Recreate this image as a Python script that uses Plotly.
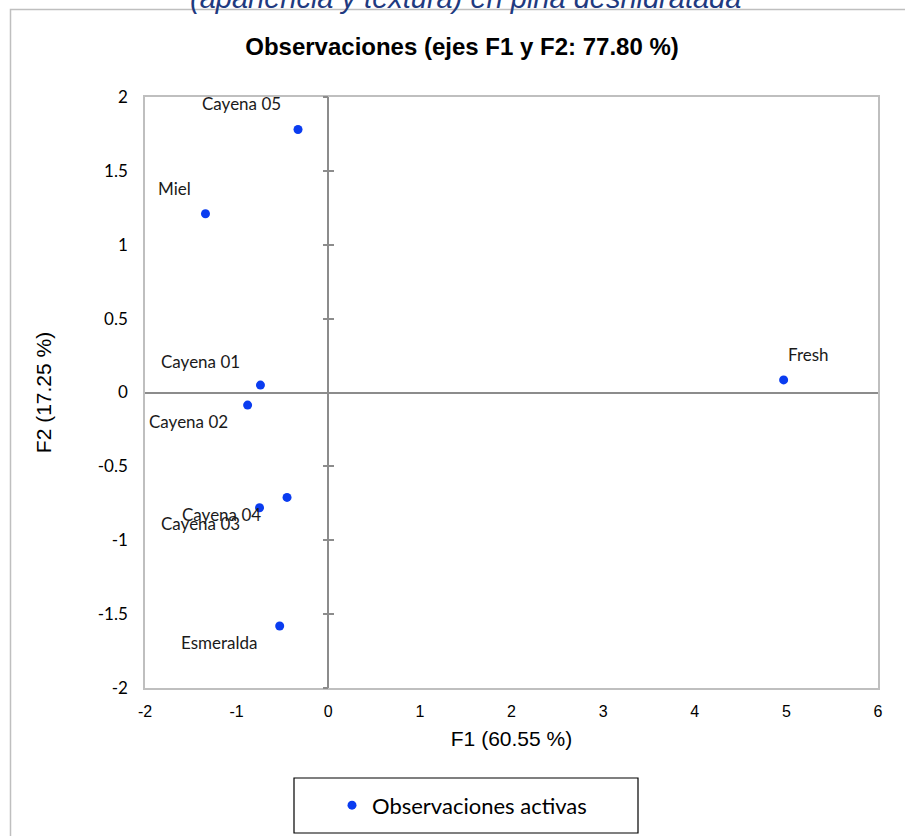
import plotly.graph_objects as go

names = ["Cayena 05", "Miel", "Cayena 01", "Cayena 02", "Cayena 04", "Cayena 03", "Esmeralda", "Fresh"]
f1 = [-0.33, -1.34, -0.74, -0.88, -0.45, -0.75, -0.53, 4.97]
f2 = [1.78, 1.21, 0.05, -0.085, -0.71, -0.78, -1.58, 0.085]
label_dx = [-57, -31, -60, -59, -66, -59, -61, 25]
label_dy = [26, 25, 24, -16, -17, -16, -17, 25]

x_ticks = [-2, -1, 0, 1, 2, 3, 4, 5, 6]
y_ticks = [-2, -1.5, -1, -0.5, 0, 0.5, 1, 1.5, 2]
y_ticktext = ["-2", "-1.5", "-1", "-0.5", "0", "0.5", "1", "1.5", "2"]

blue = "#0A3CF0"
label_font = dict(family="Lato, Open Sans, sans-serif", size=17, color="#1a1a1a")

fig = go.Figure()
fig.add_trace(go.Scatter(
    x=f1, y=f2, mode="markers", name="Observaciones activas",
    marker=dict(color=blue, size=9), showlegend=True,
))
# carriers for cross ticks on the vertical zero line
fig.add_trace(go.Scatter(x=[None], y=[None], yaxis="y2", showlegend=False, hoverinfo="skip"))
fig.add_trace(go.Scatter(x=[None], y=[None], yaxis="y3", showlegend=False, hoverinfo="skip"))

for n, x, y, dx, dy in zip(names, f1, f2, label_dx, label_dy):
    fig.add_annotation(x=x, y=y, xref="x", yref="y", text=n, showarrow=False,
                       xshift=dx, yshift=dy, font=label_font)

# cut-off upper caption
fig.add_annotation(x=(465 - 145) / 733, y=1.137, xref="paper", yref="paper", xanchor="center", yanchor="bottom",
                   text="<i>(apariencia y textura) en piña deshidratada</i>", showarrow=False,
                   font=dict(family="Liberation Sans, Arial, sans-serif", size=29, color="#1F3A80"))

axis_common = dict(showgrid=False, mirror=True, showline=True, linecolor="#BFBFBF", linewidth=1.5,
                   zeroline=True, zerolinecolor="#8C8C8C", zerolinewidth=1.5)

fig.update_layout(
    width=905, height=836,
    margin=dict(l=145, r=27, t=97, b=148, autoexpand=False),
    paper_bgcolor="white", plot_bgcolor="white",
    title=dict(text="<b>Observaciones (ejes F1 y F2: 77.80 %)</b>", x=(462 - 145) / 733, xref="paper",
               xanchor="center", y=1 - 47 / 836, yanchor="middle",
               font=dict(family="Liberation Sans, Arial, sans-serif", size=24, color="black")),
    xaxis=dict(range=[-2, 6], tickvals=x_ticks, ticktext=[str(v) for v in x_ticks],
               ticks="outside", ticklen=8, tickcolor="rgba(0,0,0,0)",
               tickfont=dict(family="Liberation Sans Narrow, Arial Narrow, sans-serif", size=16, color="black"),
               title=dict(text="F1 (60.55 %)", standoff=12,
                          font=dict(family="Liberation Sans, Arial, sans-serif", size=21, color="black")),
               **axis_common),
    yaxis=dict(range=[-2, 2], tickvals=y_ticks, ticktext=y_ticktext,
               ticks="outside", ticklen=12, tickcolor="rgba(0,0,0,0)",
               tickfont=dict(family="Lato, Open Sans, sans-serif", size=17, color="black"),
               title=dict(text="F2 (17.25 %)", standoff=40,
                          font=dict(family="Liberation Sans, Arial, sans-serif", size=21, color="black")),
               **axis_common),
    yaxis2=dict(range=[-2, 2], tickvals=y_ticks, overlaying="y", anchor="free", position=0.25,
                showticklabels=False, ticks="outside", ticklen=5, tickcolor="#8C8C8C", tickwidth=1.5,
                showline=False, showgrid=False, zeroline=False),
    yaxis3=dict(range=[-2, 2], tickvals=y_ticks, overlaying="y", anchor="free", position=0.25,
                showticklabels=False, ticks="inside", ticklen=5, tickcolor="#8C8C8C", tickwidth=1.5,
                showline=False, showgrid=False, zeroline=False),
    legend=dict(orientation="h", x=(332 - 145) / 733, y=-0.163, xanchor="left", yanchor="top",
                bgcolor="rgba(0,0,0,0)", borderwidth=0,
                font=dict(family="Lato, Open Sans, sans-serif", size=22, color="black")),
    showlegend=True,
)

# outer chart-area frame and legend box
fig.add_shape(type="rect", xref="paper", yref="paper",
              x0=(10.5 - 145) / 733, x1=1.2, y0=-0.4, y1=1 + (97 - 9.5) / 591,
              line=dict(color="#BFBFBF", width=1.5), layer="below")
fig.add_shape(type="rect", xref="paper", yref="paper",
              x0=(294 - 145) / 733, x1=(638 - 145) / 733,
              y0=(688 - 833) / 591, y1=(688 - 778) / 591,
              line=dict(color="black", width=1.2), layer="below")

fig.write_html("out.html")
